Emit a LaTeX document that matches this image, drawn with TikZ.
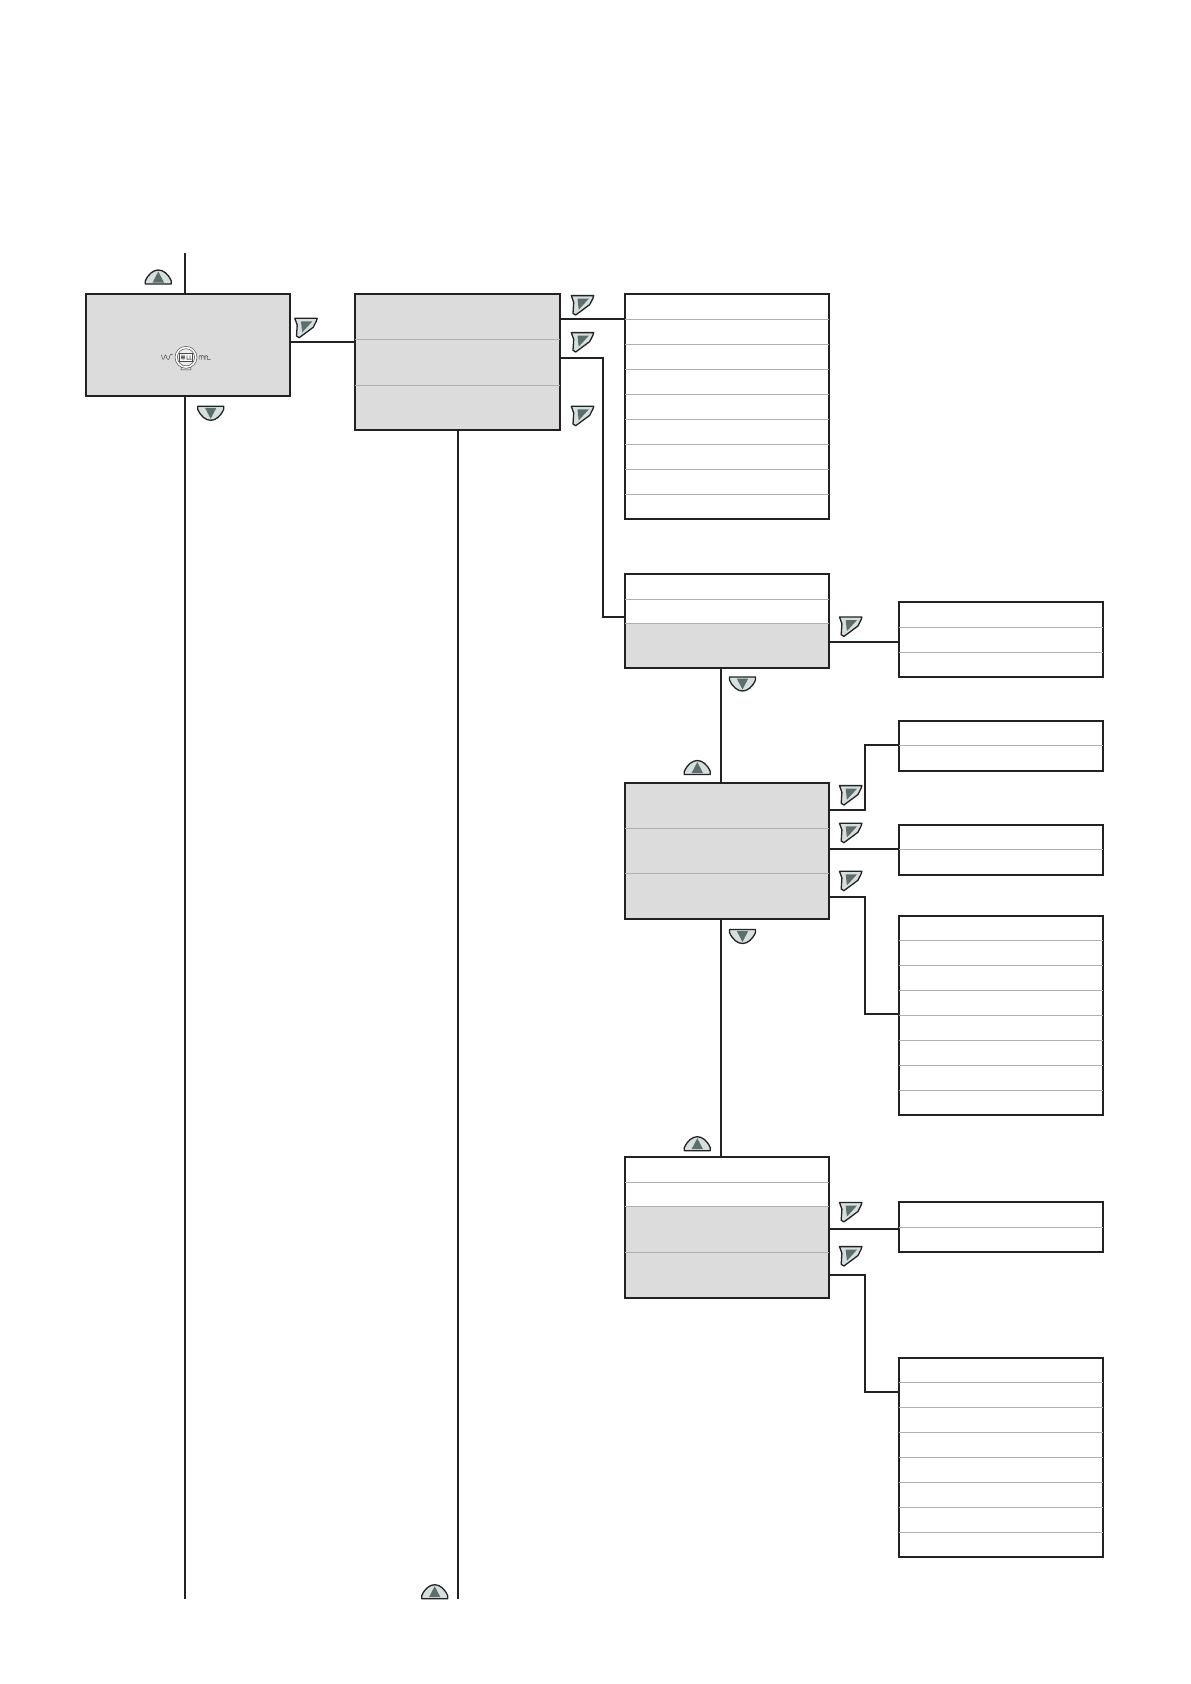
\documentclass[tikz,border=0pt]{standalone}
\definecolor{framecol}{HTML}{222222}
\definecolor{panelgrey}{HTML}{DCDCDC}
\definecolor{rulegrey}{HTML}{B0B0B0}
\definecolor{keyface}{HTML}{D3E0DD}
\definecolor{keymark}{HTML}{5C6F6D}
\definecolor{symbolcol}{HTML}{4A4A4A}
\tikzset{
  frame/.style={draw=framecol,line width=2.2pt,rectangle,inner sep=0pt,outer sep=0pt,anchor=north west},
  rowline/.style={draw=rulegrey,line width=0.9pt},
  wire/.style={draw=framecol,line width=2.2pt,line join=miter},
  keyedge/.style={draw=framecol,fill=keyface,line width=1.3pt,line join=round},
  keyarrow/.style={fill=keymark},
  upkey/.pic={
    \draw[keyedge] (-13,7) -- (-13,4) .. controls (-10,-3) and (-5,-7) .. (0,-7) .. controls (5,-7) and (10,-3) .. (13,4) -- (13,7) -- cycle;
    \fill[keyarrow] (0,-5.5) -- (5.7,5.5) -- (-5.7,5.5) -- cycle;
  },
  enterkey/.pic={
    \draw[keyedge] (-11.2,-9.7) -- (11.2,-9.7) -- (10.4,-7) -- (7.2,-0.7) -- (-6.8,9.7) -- (-9.5,8) -- (-8.8,-3) -- cycle;
    \fill[keyarrow] (-5,-6.6) -- (6.3,-6.6) -- (-3.8,4.4) -- cycle;
  }
}
% \panel{name}{x1}{y1}{x2}{y2}
\newcommand{\panel}[5]{%
  \pgfmathsetmacro{\pw}{#4-#2}\pgfmathsetmacro{\ph}{#5-#3}%
  \node[frame,minimum width=\pw pt,minimum height=\ph pt] (#1) at (#2,#3) {};}
\newcommand{\rows}[2]{\foreach \ry in {#2}{\draw[rowline] (#1.west |- 0,\ry) -- (#1.east |- 0,\ry);}}
\begin{document}
\begin{tikzpicture}[x=1pt,y=-1pt]
\useasboundingbox (0,0) rectangle (1191,1684);
% grey fills
\fill[panelgrey] (86,294) rectangle (290,395.7);
\fill[panelgrey] (355,294) rectangle (560,430);
\fill[panelgrey] (625,623.3) rectangle (828.7,668.3);
\fill[panelgrey] (625,782.7) rectangle (828.7,919);
\fill[panelgrey] (625,1206.3) rectangle (828.7,1297.7);
% panels
\panel{a}{86}{294}{290}{395.7}
\panel{b}{355}{294}{560}{430}
\panel{c}{625}{294}{828.7}{518.7}
\panel{d}{625}{574}{828.7}{668.3}
\panel{e}{625}{782.7}{828.7}{919}
\panel{f}{625}{1156.7}{828.7}{1297.7}
\panel{g}{898.7}{602}{1103}{676.7}
\panel{h}{898.7}{721.3}{1103}{770.7}
\panel{i}{898.7}{825}{1103}{874.7}
\panel{j}{898.7}{915.7}{1103}{1114.7}
\panel{k}{898.7}{1202}{1103}{1252}
\panel{l}{898.7}{1358}{1103}{1556.7}
\rows{b}{339.3,385.3}
\rows{c}{319.3,344.3,369.3,394.3,419.3,444.3,469.3,494}
\rows{d}{599.3,623.3}
\rows{e}{828.3,873.3}
\rows{f}{1182.3,1206.3,1252.3}
\rows{g}{627.3,652.3}
\rows{h}{745.3}
\rows{i}{849.3}
\rows{j}{940.3,965.3,990.3,1015.3,1040.3,1065.3,1090.3}
\rows{k}{1227.3}
\rows{l}{1382.3,1407.3,1432.3,1457.3,1482.3,1507.3,1532.3}
% free ends
\coordinate (leftTop) at (185,253.3);
\coordinate (leftEnd) at (185,1598.7);
\coordinate (midEnd) at (458,1598.7);
% connectors
\draw[wire] (leftTop) -- (leftTop |- a.north);
\draw[wire] (leftEnd |- a.south) -- (leftEnd);
\draw[wire] (a.east |- 0,341.7) -- (b.west |- 0,341.7);
\draw[wire] (midEnd |- b.south) -- (midEnd);
\draw[wire] (b.east |- 0,318.7) -- (c.west |- 0,318.7);
\draw[wire] (b.east |- 0,357.7) -| (602.7,617) -- (d.west |- 0,617);
\draw[wire] (d.east |- 0,641.7) -- (g.west |- 0,641.7);
\draw[wire] (721,0 |- d.south) -- (721,0 |- e.north);
\draw[wire] (e.east |- 0,809.7) -| (865,745.3) -- (h.west |- 0,745.3);
\draw[wire] (e.east |- 0,848.7) -- (i.west |- 0,848.7);
\draw[wire] (e.east |- 0,896.7) -| (865,1013.7) -- (j.west |- 0,1013.7);
\draw[wire] (721,0 |- e.south) -- (721,0 |- f.north);
\draw[wire] (f.east |- 0,1228.7) -- (k.west |- 0,1228.7);
\draw[wire] (f.east |- 0,1275) -| (865,1391.7) -- (l.west |- 0,1391.7);
% keys
\foreach \kx/\ky in {158.3/277,697.3/767.5,697.3/1143.7,434.7/1591.7}
  \pic at (\kx,\ky) {upkey};
\foreach \kx/\ky in {210.7/413.3,742.5/684,742.5/936.5}
  \pic[yscale=-1] at (\kx,\ky) {upkey};
\foreach \kx/\ky in {306/328,582.5/305.3,582.5/342.3,582.5/416,850.7/626.7,850.7/795.3,850.7/833,850.7/881,850.7/1212.2,850.7/1256.3}
  \pic at (\kx,\ky) {enterkey};
% instrument symbol in the first panel
\begin{scope}[shift={(186,357.3)},line width=0.5pt]
  \draw[symbolcol,fill=panelgrey] (-4.5,8) -- (-5,12.5) -- (5,12.5) -- (4.5,8) -- cycle;
  \draw[symbolcol,fill=white] (0,0) circle (11);
  \draw[symbolcol,fill=panelgrey!50] (0,0) circle (8.6);
  \draw[symbolcol,fill=white,line width=0.7pt] (-6.5,-4) rectangle (6.5,4);
  \draw[symbolcol,line width=0.7pt] (-5,2) -- (-4,-2) -- (-3,2) -- (-2,-2) -- (-1,2) (1,-2) -- (1,2) -- (3,2) (4,-2) -- (4,2) -- (5.5,2);
  \draw[symbolcol] (-24.5,-2.5) .. controls (-23.5,3) and (-22.5,3) .. (-21.5,0) .. controls (-21,-3) and (-20,-3) .. (-19.5,0) .. controls (-18.5,3) and (-17,3) .. (-16.5,0) .. controls (-16,-3.5) and (-15,-3.5) .. (-13,-2.5);
  \draw[symbolcol] (13,2.2) -- (13,-1) .. controls (13,-2.2) and (15.5,-2.2) .. (15.5,-1) -- (15.5,2.2) (15.5,-1) .. controls (15.5,-2.2) and (18,-2.2) .. (18,-1) -- (18,2.2) (19,2.2) -- (19,-1) .. controls (19,-2.2) and (21.5,-2.2) .. (21.5,-1) -- (21.5,2.2) -- (24.5,2.2);
\end{scope}
\end{tikzpicture}
\end{document}
